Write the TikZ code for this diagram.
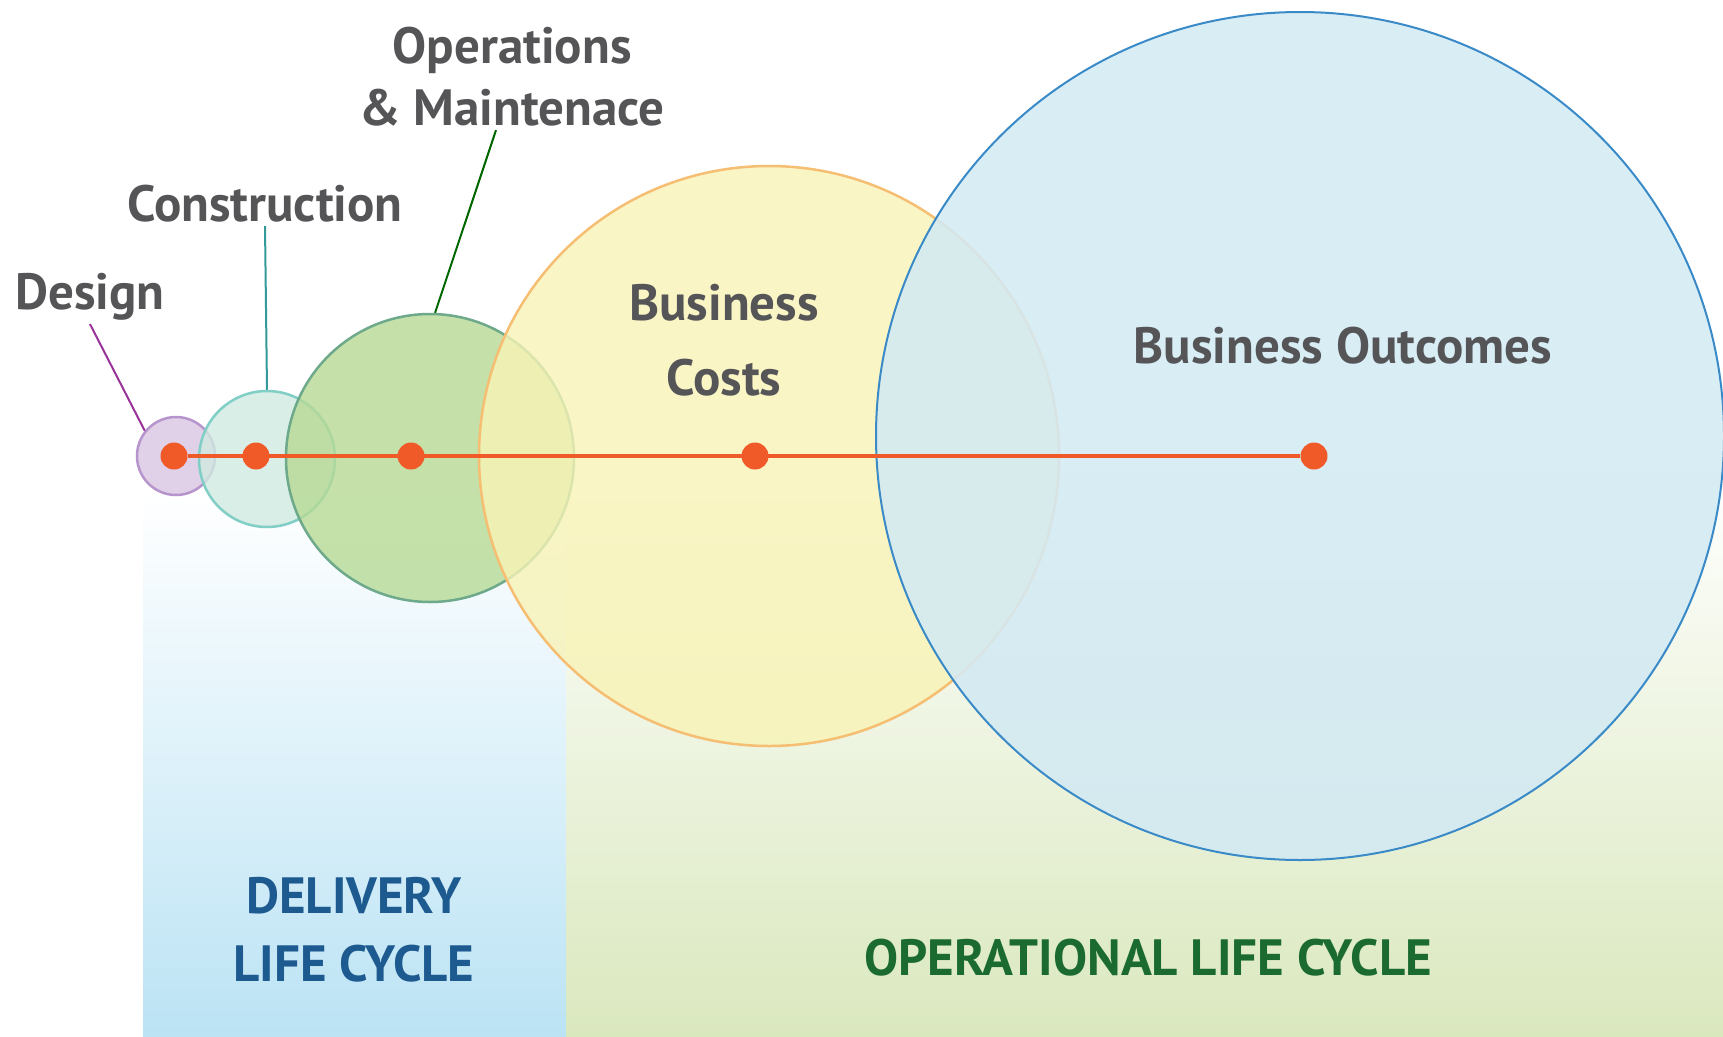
\documentclass[tikz,border=0pt]{standalone}
\usepackage{fontspec}
\setmainfont{PT Sans}
\usetikzlibrary{calc}

\definecolor{ink}{HTML}{555558}
\definecolor{dotred}{HTML}{F05A28}
\definecolor{delblue}{HTML}{BBE3F4}
\definecolor{opgreen}{HTML}{DAE8BE}
\definecolor{delink}{HTML}{1D5A90}
\definecolor{opink}{HTML}{1B6B30}
\definecolor{designline}{HTML}{B595CC}
\definecolor{designfill}{HTML}{D9C6E2}
\definecolor{constrline}{HTML}{80CEC6}
\definecolor{constrfill}{HTML}{D0EAE0}
\definecolor{omline}{HTML}{6DA98A}
\definecolor{omfill}{HTML}{B6DA94}
\definecolor{costline}{HTML}{F5BE72}
\definecolor{costfill}{HTML}{F8F3B6}
\definecolor{outline}{HTML}{3A8AC8}
\definecolor{outfill}{HTML}{D3EAF3}

\begin{document}
\begin{tikzpicture}[x=1pt, y=-1pt,
   phase/.style={circle, draw, line width=2.5pt, fill opacity=0.8, inner sep=0pt},
   dot/.style={circle, fill=dotred, inner sep=0pt, minimum size=27pt},
   lbl/.style={text=ink, font=\bfseries\fontsize{51}{62}\selectfont, align=center},
   era/.style={font=\bfseries\fontsize{51}{68}\selectfont, align=center}]
   \useasboundingbox (0,0) rectangle (1723,1036);
   % life cycle backgrounds
   \shade[top color=white, bottom color=delblue] (143,495) rectangle (566,1036);
   \shade[top color=white, bottom color=opgreen] (566,470) rectangle (1723,1036);
   % phases
   \node[phase, draw=designline, fill=designfill, minimum size=78pt] (design) at (176,456) {};
   \node[phase, draw=constrline, fill=constrfill, minimum size=136pt] (constr) at (267,459) {};
   \node[phase, draw=omline, fill=omfill, minimum size=288pt] (om) at (430,458) {};
   \node[phase, draw=costline, fill=costfill, minimum size=580pt] (costs) at (769,456) {};
   \node[phase, draw=outline, fill=outfill, line width=2pt, fill opacity=0.88, minimum size=848pt] (outcomes) at (1300,436) {};
   % time line
   \node[dot] (dDesign) at (174,456) {};
   \node[dot] (dConstr) at (256,456) {};
   \node[dot] (dOM) at (411,456) {};
   \node[dot] (dCosts) at (755,456) {};
   \node[dot] (dOut) at (1314,456) {};
   \draw[line width=4pt, dotred] (dDesign) -- (dOut);
   % labels
   \node[lbl] (lDesign) at (90,297) {Design};
   \node[lbl] (lConstr) at (265,204) {Construction};
   \node[lbl] (lOM) at (512,77) {Operations\\\& Maintenace};
   \node[lbl, font=\bfseries\fontsize{51}{75}\selectfont] (lCosts) at (724,340) {Business\\Costs};
   \node[lbl] (lOut) at (1343,346) {Business Outcomes};
   \draw[violet!80, line width=2pt] (lDesign.south) -- (design.141);
   \draw[teal!80, line width=2pt] (lConstr.south) -- (constr.north);
   \draw[green!40!black, line width=2pt] ($(lOM.south)+(-16,0)$) -- (om.88);
   \node[era, text=delink] (lDel) at (354,930) {DELIVERY\\LIFE CYCLE};
   \node[era, text=opink] (lOp) at (1148,958) {OPERATIONAL LIFE CYCLE};
\end{tikzpicture}
\end{document}
